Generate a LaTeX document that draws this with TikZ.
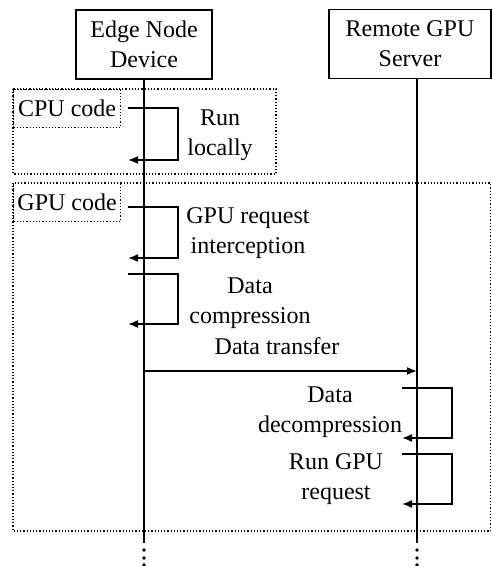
\documentclass[tikz,border=0pt]{standalone}
\usepackage{fontspec}
\setmainfont{Liberation Serif}
\usetikzlibrary{positioning, arrows.meta}
\tikzset{every node/.style={font=\fontsize{12}{15}\selectfont}, % Times-like text everywhere
actor/.style={ % Boxes of the two parties
draw, line width=0.8pt, align=center,
minimum height=34.5pt},
lifeline/.style={line width=0.9pt},
frame/.style={draw, densely dotted, line width=0.6pt}, % Code regions
msg/.style={ % Messages and self calls
line width=0.8pt, -{Latex[length=5pt,width=4pt]}},
note/.style={align=center, inner sep=0pt}}

\begin{document}
\begin{tikzpicture}[x=0.5pt, y=-0.5pt]
    \useasboundingbox (0,0) rectangle (492,566);

    % regions
    \draw[frame] (13,89) rectangle (276,174);
    \draw[frame] (13,183) rectangle (490.5,531);
    \node[frame, anchor=north west, minimum width=53.5pt, minimum height=19pt, inner sep=1pt] (cpu) at (13,89) {CPU code};
    \node[frame, anchor=north west, minimum width=53.5pt, minimum height=19pt, inner sep=1pt] (gpu) at (13,183) {GPU code};

    % parties
    \node[actor, minimum width=68pt] (edge) at (144,44.5) {Edge Node\\Device};
    \node[actor, minimum width=81pt] (remote) at (410,44) {Remote GPU\\Server};

    \coordinate (eend) at (144,543);
    \coordinate (rend) at (417,543);
    \draw[lifeline] (edge.south) -- (eend);
    \draw[lifeline] (remote.south -| rend) -- (rend);
    \foreach \y in {550,558,565} {
        \fill (eend |- 0,\y) circle (0.9pt);
        \fill (rend |- 0,\y) circle (0.9pt);
    }

    % self calls
    \foreach \x/\ya/\yb [count=\i] in {128/108/160, 128/207/258, 128/274/324, 402/388/438, 402/454/504} {
        \coordinate (s\i) at (\x,\ya);
        \coordinate (e\i) at (\x,\yb);
        \draw[msg] (s\i) -- ++(50,0) |- (e\i);
    }

    % transfer
    \coordinate (tx) at (144,371);
    \draw[msg] (tx) -- (tx -| rend);

    \node[note] (run) at (220,135) {Run\\locally};
    \node[note] (intercept) at (248,233) {GPU request\\interception};
    \node[note] (compress) at (250,303) {Data\\compression};
    \node[note] (transfer) at (277,346) {Data transfer};
    \node[note] (decompress) at (330,412) {Data\\decompression};
    \node[note] (request) at (336,479) {Run GPU\\request};

\end{tikzpicture}
\end{document}
